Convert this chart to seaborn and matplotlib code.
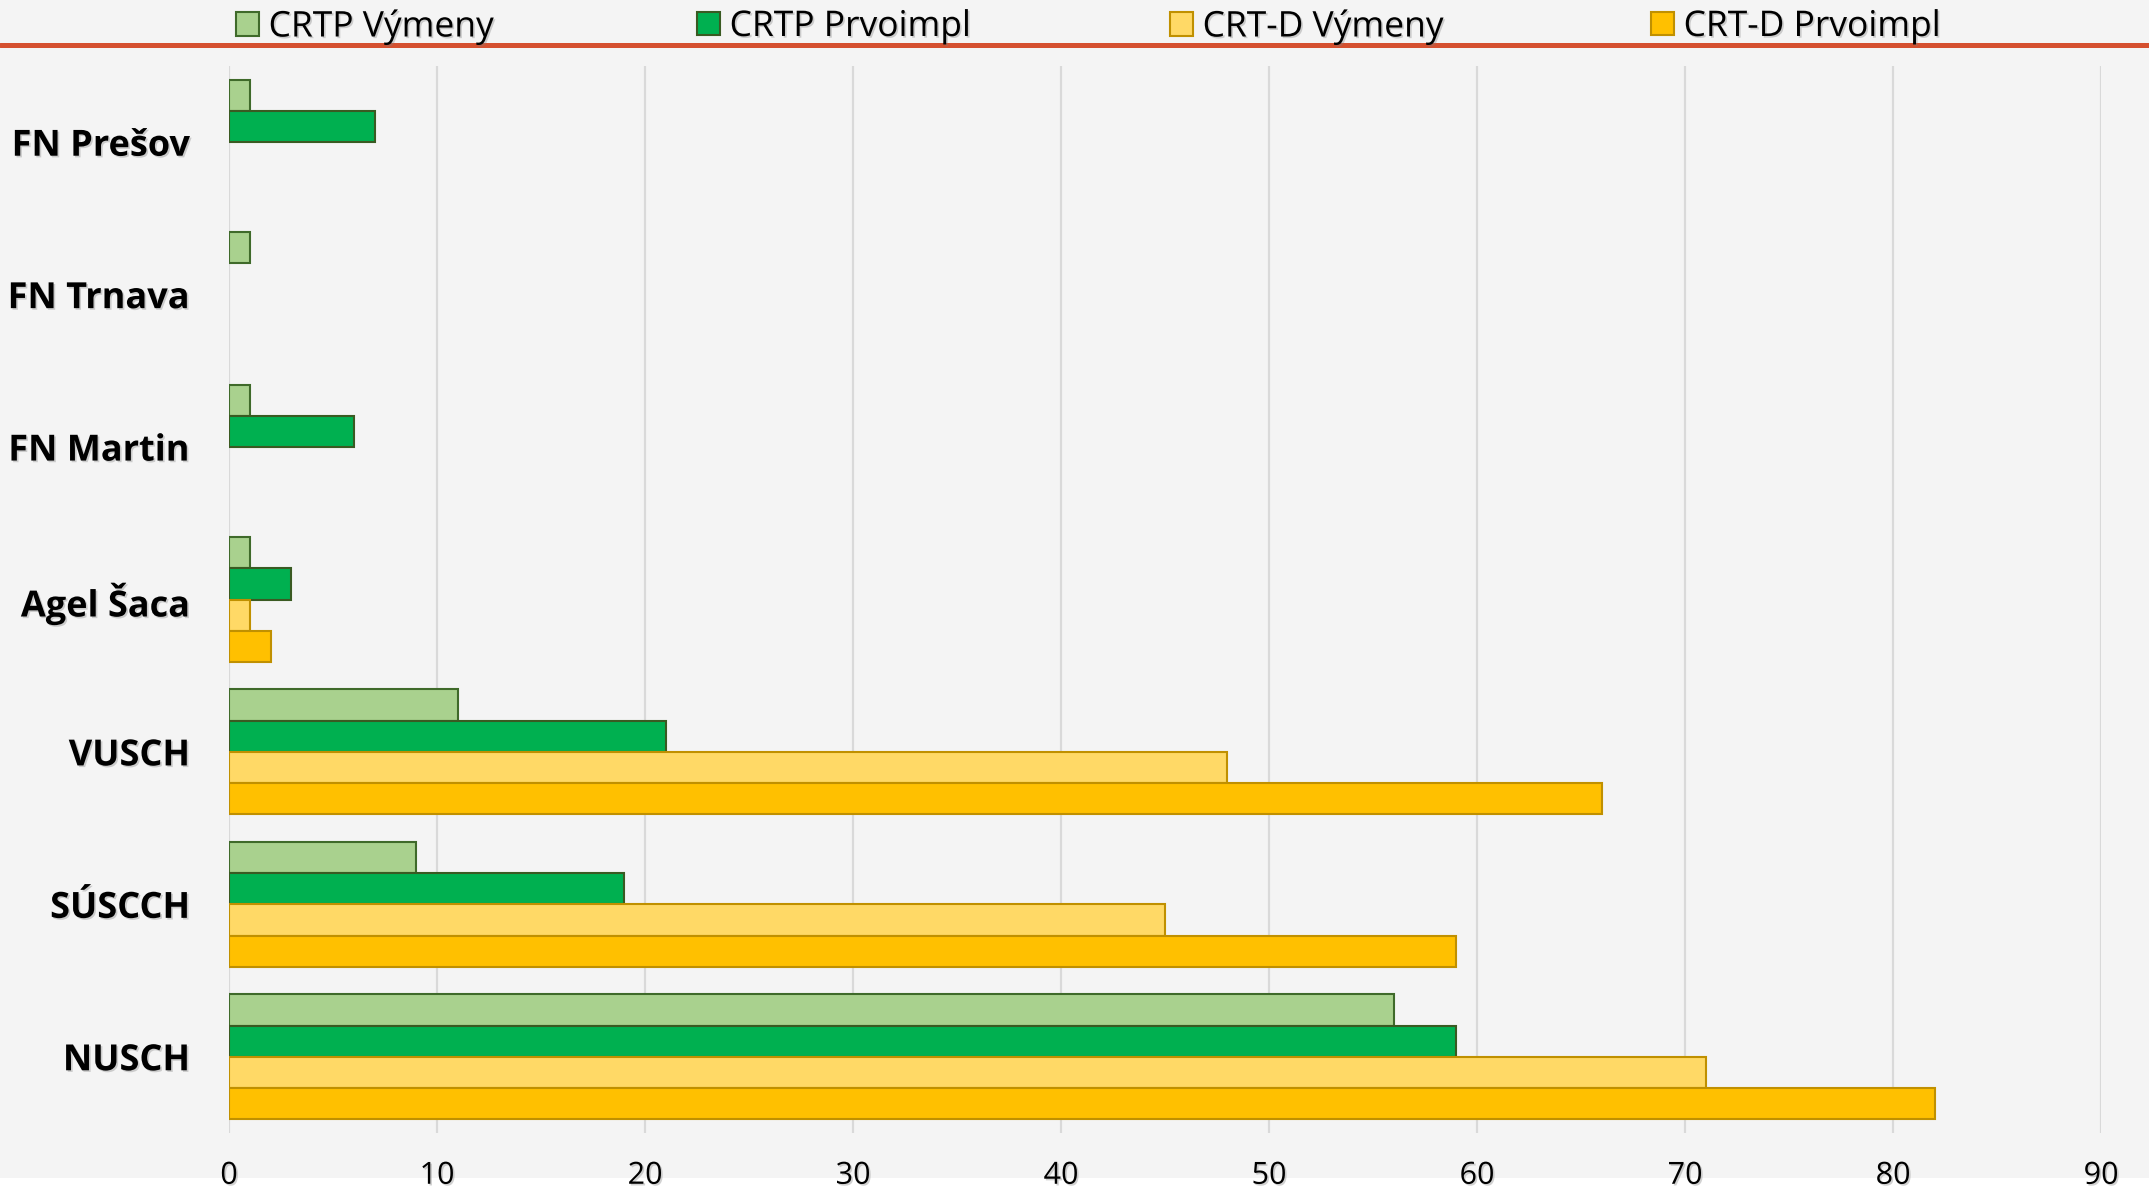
import matplotlib
matplotlib.use("Agg")
import matplotlib.pyplot as plt
import matplotlib.patheffects as pe
from matplotlib.patches import Rectangle
from matplotlib.lines import Line2D
import seaborn as sns
import pandas as pd

categories = ["FN Prešov", "FN Trnava", "FN Martin", "Agel Šaca", "VUSCH", "SÚSCCH", "NUSCH"]
series = ["CRTP Výmeny", "CRTP Prvoimpl", "CRT-D Výmeny", "CRT-D Prvoimpl"]
crtp_vymeny = [1, 1, 1, 1, 11, 9, 56]
crtp_prvoimpl = [7, 0, 6, 3, 21, 19, 59]
crtd_vymeny = [0, 0, 0, 1, 48, 45, 71]
crtd_prvoimpl = [0, 0, 0, 2, 66, 59, 82]
xticks = [0, 10, 20, 30, 40, 50, 60, 70, 80, 90]

fills = ["#a9d18e", "#00b050", "#ffd966", "#ffc000"]
edges = ["#3f6a2a", "#3a5a22", "#c09000", "#c09000"]

rows = []
for s, vals in zip(series, [crtp_vymeny, crtp_prvoimpl, crtd_vymeny, crtd_prvoimpl]):
    for c, v in zip(categories, vals):
        rows.append({"Nemocnica": c, "Séria": s, "Počet": v})
df = pd.DataFrame(rows)

sns.set_theme(style="white")
FONT = ["Open Sans", "DejaVu Sans"]
plt.rcParams["font.family"] = FONT
plt.rcParams["text.color"] = "black"

W, H = 2149, 1191
fig = plt.figure(figsize=(W / 100, H / 100), dpi=100, facecolor="white")
fig.add_artist(Rectangle((0, 1 - 1178 / H), 1, 1178 / H, transform=fig.transFigure,
                         facecolor="#f4f4f4", edgecolor="none", zorder=-10))
ax = fig.add_axes([229 / W, 1 - 1133 / H, (2101 - 229) / W, (1133 - 66) / H])
ax.set_facecolor("none")

sns.barplot(data=df, y="Nemocnica", x="Počet", hue="Séria", order=categories,
            hue_order=series, palette=fills, orient="h", width=0.82, ax=ax,
            errorbar=None, legend=False, saturation=1)

handles = []
for i, cont in enumerate(ax.containers):
    for p in cont.patches:
        p.set_edgecolor(edges[i])
        p.set_linewidth(1.5)
        if p.get_width() == 0:
            p.set_visible(False)
    handles.append(max(cont.patches, key=lambda p: p.get_width()))

ax.set_xlim(0, 90)
ax.set_ylim(6.5, -0.5)
ax.set_xticks(xticks)
ax.grid(axis="x", color="#d9d9d9", linewidth=1.6)
ax.grid(axis="y", visible=False)
ax.set_axisbelow(True)
for sp in ax.spines.values():
    sp.set_visible(False)
ax.set_xlabel("")
ax.set_ylabel("")

shadow = [pe.withSimplePatchShadow(offset=(1.2, -1.2), shadow_rgbFace="#7f7f7f", alpha=0.35)]

ax.tick_params(axis="x", length=0, pad=20, labelsize=22, labelcolor="black")
ax.tick_params(axis="y", length=0, pad=28, labelsize=26, labelcolor="black")
for t in ax.get_yticklabels():
    t.set_fontweight("bold")
    t.set_path_effects(shadow)
for t in ax.get_xticklabels():
    t.set_path_effects(shadow)

# legend entries
xs = [236, 697, 1170, 1651]
for h, lab, x in zip(handles, series, xs):
    lg = fig.legend([h], [lab], loc="center left", bbox_to_anchor=(x / W, 1 - 27 / H),
                    frameon=False, fontsize=25.5, handlelength=0.64, handleheight=0.64,
                    handletextpad=0.28, borderpad=0, borderaxespad=0)
    for t in lg.get_texts():
        t.set_path_effects(shadow)

fig.add_artist(Line2D([0, 1], [1 - 45 / H, 1 - 45 / H], transform=fig.transFigure,
                      color="#d5502f", linewidth=3.6, zorder=-5))

fig.savefig("out.png", dpi=100, facecolor="white")
